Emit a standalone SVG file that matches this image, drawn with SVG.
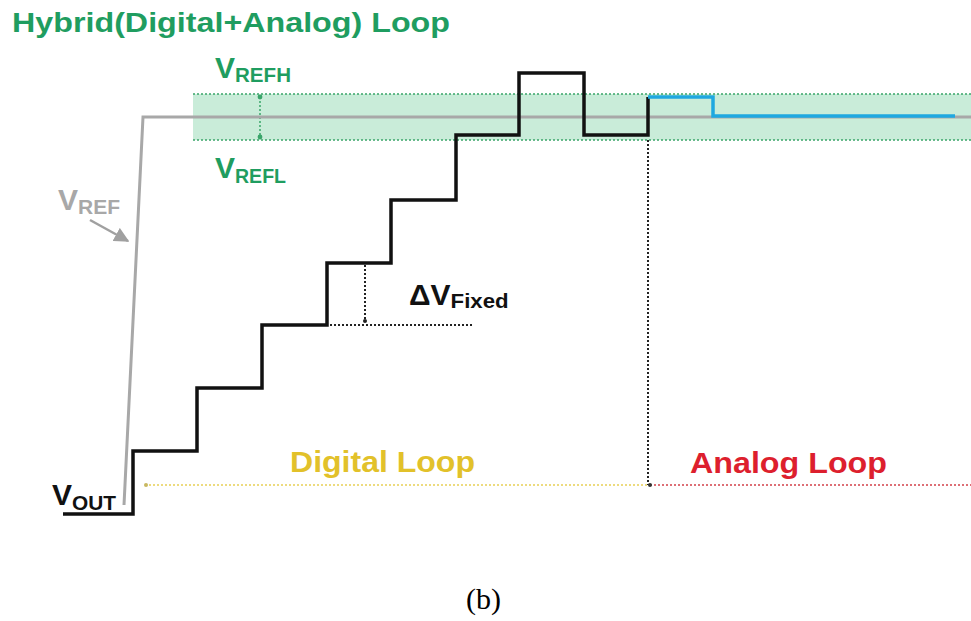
<svg xmlns="http://www.w3.org/2000/svg" width="971" height="621" viewBox="0 0 971 621">
<style>
.g{fill:#1f9d60;font-family:"Liberation Sans",Arial,sans-serif;font-weight:bold}
.gray{fill:#a8a8a8;font-family:"Liberation Sans",Arial,sans-serif;font-weight:bold}
.blk{fill:#111;font-family:"Liberation Sans",Arial,sans-serif;font-weight:bold}
.wave{fill:none;stroke:#111;stroke-width:3.5;stroke-linejoin:miter}
.dotg{stroke:#3aa56a;stroke-width:1.5;stroke-dasharray:2 2;fill:none}
.dotk{stroke:#222;stroke-width:2;stroke-dasharray:2 2;fill:none}
</style>
<defs>
<marker id="ah" viewBox="0 0 10 10" refX="9" refY="5" markerWidth="6" markerHeight="6" orient="auto"><path d="M0,0L10,5L0,10z" fill="#a0a0a0"/></marker>
<marker id="dotm" viewBox="0 0 10 10" refX="5" refY="5" markerWidth="4" markerHeight="4"><circle cx="5" cy="5" r="4" fill="#3aa56a"/></marker>
</defs>
<rect width="971" height="621" fill="#fff"/>
<text class="g" x="12" y="32" font-size="27" textLength="438" lengthAdjust="spacingAndGlyphs">Hybrid(Digital+Analog) Loop</text>
<g id="band">
<rect x="193" y="94" width="778" height="46" fill="#c9ecd9"/>
<line class="dotg" x1="193" y1="94" x2="971" y2="94"/>
<line class="dotg" x1="193" y1="140" x2="971" y2="140"/>
<line class="dotg" x1="260" y1="97" x2="260" y2="137" marker-start="url(#dotm)" marker-end="url(#dotm)"/>
</g>
<g id="vref">
<polyline points="124,505 143,117 971,117" fill="none" stroke="#a8a8a8" stroke-width="3"/>
<line x1="90" y1="220" x2="128" y2="241" stroke="#a0a0a0" stroke-width="2.5" marker-end="url(#ah)"/>
<text class="gray" x="58" y="210" font-size="30">V<tspan font-size="20" dy="4" textLength="42" lengthAdjust="spacingAndGlyphs">REF</tspan></text>
</g>
<g id="labels">
<text class="g" x="215" y="78" font-size="30">V<tspan font-size="20" dy="4" textLength="56" lengthAdjust="spacingAndGlyphs">REFH</tspan></text>
<text class="g" x="215" y="178" font-size="30">V<tspan font-size="20" dy="5" textLength="51" lengthAdjust="spacingAndGlyphs">REFL</tspan></text>
<text class="blk" x="52" y="505" font-size="30">V<tspan font-size="20" dy="5" textLength="44" lengthAdjust="spacingAndGlyphs">OUT</tspan></text>
<text class="blk" x="409" y="305" font-size="30">ΔV<tspan font-size="20" dy="3" textLength="58" lengthAdjust="spacingAndGlyphs">Fixed</tspan></text>
<text x="290" y="472" font-size="29" fill="#e2c12a" font-family="Liberation Sans,Arial,sans-serif" font-weight="bold" textLength="185" lengthAdjust="spacingAndGlyphs">Digital Loop</text>
<text x="690" y="473" font-size="29" fill="#dd1f2e" font-family="Liberation Sans,Arial,sans-serif" font-weight="bold" textLength="197" lengthAdjust="spacingAndGlyphs">Analog Loop</text>
<text x="466" y="609" font-size="30" fill="#000" font-family="Liberation Serif,'Times New Roman',serif">(b)</text>
</g>
<g id="connectors">
<line class="dotk" x1="330" y1="325" x2="473" y2="325"/>
<line class="dotk" x1="365" y1="265" x2="365" y2="321"/>
<circle cx="365" cy="321" r="2" fill="#222"/>
<line class="dotk" x1="648" y1="140" x2="648" y2="485"/>
<line x1="145" y1="485" x2="648" y2="485" stroke="#e8cf55" stroke-width="1.5" stroke-dasharray="2 2"/>
<circle cx="146" cy="485" r="2" fill="#c8b860"/>
<line x1="650" y1="485" x2="971" y2="485" stroke="#d2404a" stroke-width="1.5" stroke-dasharray="2 2"/>
<circle cx="650" cy="485" r="2" fill="#333"/>
</g>
<g id="vout">
<polyline class="wave" points="63,514 133,514 133,451 197,451 197,388 262,388 262,325 327,325 327,263 391,263 391,200 456,200 456,135 519,135 519,73 584,73 584,135 648,135 648,97"/>
<polyline points="648,97 713,97 713,116 955,116" fill="none" stroke="#1fa8e0" stroke-width="3.5"/>
</g>
</svg>
